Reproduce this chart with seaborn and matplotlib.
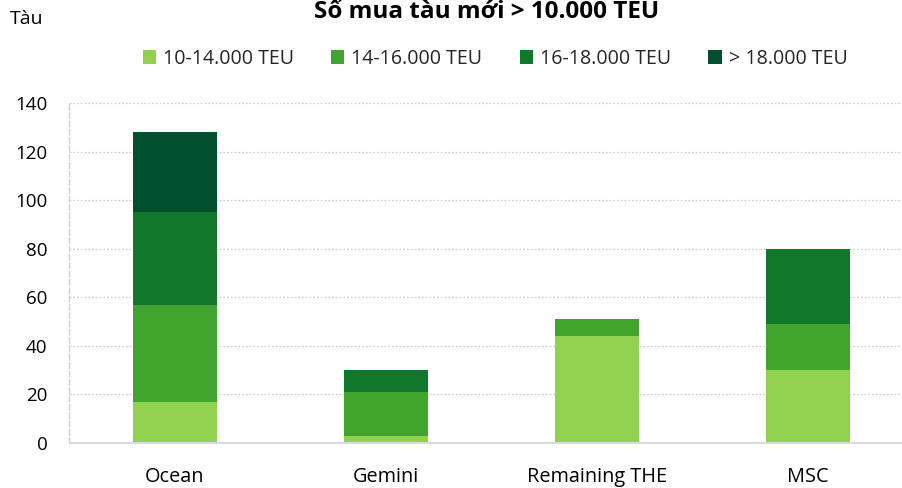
import matplotlib
matplotlib.use("Agg")
import matplotlib.pyplot as plt
import seaborn as sns
import pandas as pd
import numpy as np
from matplotlib.patches import Patch

categories = ["Ocean", "Gemini", "Remaining THE", "MSC"]
series_names = ["10-14.000 TEU", "14-16.000 TEU", "16-18.000 TEU", "> 18.000 TEU"]
s_10_14 = [17, 3, 44, 30]
s_14_16 = [40, 18, 7, 19]
s_16_18 = [38, 9, 0, 31]
s_18_plus = [33, 0, 0, 0]
colors = ["#92D050", "#40A42E", "#11772C", "#03502F"]
yticks = [0, 20, 40, 60, 80, 100, 120, 140]

sns.set_theme(style="white")
plt.rcParams['font.family'] = ['Open Sans', 'DejaVu Sans']

fig = plt.figure(figsize=(9.03, 4.88), dpi=100)
W, H = 903, 488
left_px, right_px, bottom_px, top_px = 69.5, 903, 443, 103
ax = fig.add_axes([left_px / W, 1 - bottom_px / H, (right_px - left_px) / W, (bottom_px - top_px) / H])

series = [s_10_14, s_14_16, s_16_18, s_18_plus]
cum = np.cumsum(np.array(series), axis=0)
# draw from tallest cumulative to lowest so lower segments overlay
for i in range(len(series) - 1, -1, -1):
    df = pd.DataFrame({"cat": categories, "val": cum[i]})
    sns.barplot(data=df, x="cat", y="val", color=colors[i], width=0.4,
                saturation=1, linewidth=0, ax=ax)

cat_w = 211
ax.set_xlim(-0.5, -0.5 + (right_px - left_px) / cat_w)
ax.set_ylim(0, 140)
ax.set_yticks(yticks)
ax.set_yticklabels([str(v) for v in yticks], fontsize=13.5, color="#000000")
ax.set_xlabel("")
ax.set_ylabel("")
ax.tick_params(axis="x", labelsize=14.3, pad=17, length=0, colors="#000000")
ax.tick_params(axis="y", pad=16, length=0)
for v in yticks[1:]:
    ax.axhline(v, color="#d0d0d0", linestyle=(0, (1.5, 1.5)), linewidth=0.9, zorder=0)
for s in ["top", "right"]:
    ax.spines[s].set_visible(False)
ax.spines["left"].set_color("#d0d0d0")
ax.spines["left"].set_linestyle((0, (4, 2)))
ax.spines["left"].set_linewidth(1.0)
ax.spines["bottom"].set_color("#d9d9d9")
ax.spines["bottom"].set_linewidth(1.5)
ax.set_axisbelow(True)

fig.text(487 / W, 1 - 12.5 / H, "Số mua tàu mới > 10.000 TEU", ha="center", va="center",
         fontsize=17.5, fontweight="bold", color="#000000")
fig.text(10 / W, 1 - 19 / H, "Tàu", ha="left", va="center", fontsize=14, color="#000000")

handles = [Patch(facecolor=c, edgecolor="none") for c in colors]
fig.legend(handles, series_names, loc="center", bbox_to_anchor=(495 / W, 1 - 59 / H), ncol=4,
           frameon=False, fontsize=14.1, handlelength=0.68, handleheight=0.68,
           handletextpad=0.36, columnspacing=1.9)

fig.savefig("out.png", dpi=100)
